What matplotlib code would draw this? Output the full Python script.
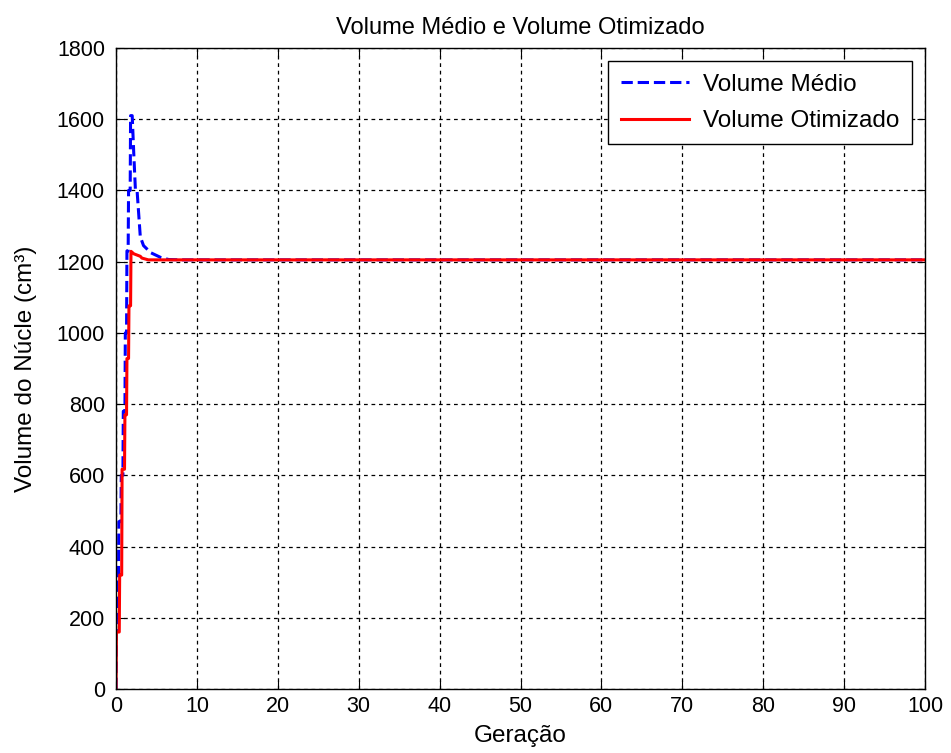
import matplotlib
matplotlib.use("Agg")
import matplotlib.pyplot as plt

plt.rcParams['font.family'] = ['Liberation Sans', 'DejaVu Sans']

# Volume medio (blue dashed)
x_medio = [0, 0.05, 0.1, 0.3, 0.35, 0.6, 0.65, 0.85, 0.9, 1.1, 1.15, 1.3, 1.35, 1.5, 1.55,
           1.75, 1.8, 2.0, 2.2, 2.4, 2.6, 3.0, 3.4, 4.3, 5.5, 6.5, 8, 100]
y_medio = [0, 200, 310, 310, 470, 470, 600, 600, 780, 780, 1000, 1000, 1230, 1230, 1400,
           1400, 1610, 1610, 1500, 1400, 1400, 1270, 1245, 1225, 1212, 1206, 1205, 1205]

# Volume otimizado (red solid)
x_otim = [0, 0.05, 0.4, 0.45, 0.7, 0.75, 1.05, 1.1, 1.3, 1.35, 1.55, 1.6, 1.8, 1.85,
          2.2, 3.0, 3.2, 4.0, 100]
y_otim = [0, 160, 160, 320, 320, 617, 617, 770, 770, 928, 928, 1076, 1076, 1229,
          1222, 1215, 1210, 1205, 1205]

xticks = list(range(0, 101, 10))
yticks = list(range(0, 1801, 200))

fig = plt.figure(figsize=(9.51, 7.53), dpi=100)
ax = fig.add_axes([0.122, 0.085, 0.8507, 0.8513])

ax.plot(x_medio, y_medio, color='blue', linestyle='--', linewidth=2.2, label='Volume Médio')
ax.plot(x_otim, y_otim, color='red', linestyle='-', linewidth=2.2, label='Volume Otimizado')

ax.set_xlim(0, 100)
ax.set_ylim(0, 1800)
ax.set_xticks(xticks)
ax.set_yticks(yticks)
ax.tick_params(direction='in', top=True, right=True, labelsize=15.5, length=6)
ax.tick_params(axis='y', pad=8)
ax.tick_params(axis='x', pad=5)
ax.grid(True, color='black', linestyle=(0, (3, 3)), linewidth=0.9)
for s in ax.spines.values():
    s.set_linewidth(1.0)

ax.set_title('Volume Médio e Volume Otimizado', fontsize=17, pad=10)
ax.set_xlabel('Geração', fontsize=17.5, labelpad=6)
ax.set_ylabel('Volume do Núcle (cm³)', fontsize=17.5, labelpad=14)

leg = ax.legend(loc='upper right', fontsize=17.5, fancybox=False, framealpha=1,
                edgecolor='black', handlelength=2.8, handletextpad=0.6,
                borderaxespad=0.55, labelspacing=0.6, borderpad=0.5)
leg.get_frame().set_linewidth(1.0)

fig.savefig('out.png', dpi=100)
